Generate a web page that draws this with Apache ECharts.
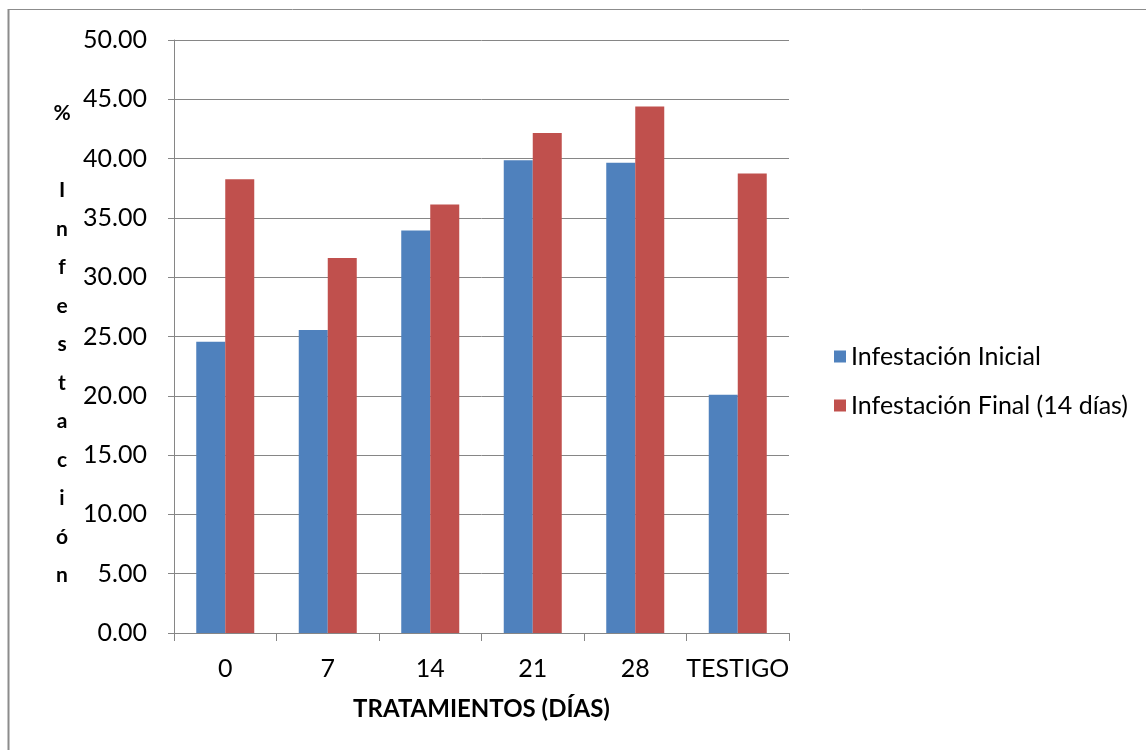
<!DOCTYPE html>
<html>
<head>
<meta charset="utf-8">
<script src="https://cdn.jsdelivr.net/npm/echarts@6/dist/echarts.min.js"></script>
<style>
    html, body { margin: 0; padding: 0; background: #fff; }
    #chartInfestacion { width: 1146px; height: 750px; }
</style>
</head>
<body>
<div id="chartInfestacion"></div>
<script>
    // datos
    var categorias = ['0', '7', '14', '21', '28', 'TESTIGO'];
    var infestacionInicial = [24.55, 25.54, 33.94, 39.86, 39.66, 20.08];
    var infestacionFinal = [38.26, 31.62, 36.13, 42.15, 44.39, 38.74];
    var nombreSerie1 = 'Infestación Inicial';
    var nombreSerie2 = 'Infestación Final (14 días)';
    var tituloY = ['%', '', 'I', 'n', 'f', 'e', 's', 't', 'a', 'c', 'i', 'ó', 'n'];
    var tituloX = 'TRATAMIENTOS (DÍAS)';

    var fuente = 'Lato, "Liberation Sans", sans-serif';

    var option = {
        animation: false,
        textStyle: { fontFamily: fuente },
        grid: {
            left: 174,
            right: 357,
            top: 40,
            bottom: 117
        },
        legend: {
            orient: 'vertical',
            left: 829,
            top: 339,
            itemWidth: 12,
            itemHeight: 12,
            itemGap: 24,
            icon: 'rect',
            textStyle: { fontSize: 25, color: '#000', fontFamily: fuente },
            data: [nombreSerie1, nombreSerie2]
        },
        xAxis: {
            type: 'category',
            data: categorias,
            name: tituloX,
            nameLocation: 'middle',
            nameGap: 64,
            nameTextStyle: { fontSize: 24, fontWeight: 'bold', color: '#000' },
            axisLine: { lineStyle: { color: '#868686', width: 1 } },
            axisTick: { show: true, length: 8, lineStyle: { color: '#868686' } },
            axisLabel: { fontSize: 25, color: '#000', margin: 23, interval: 0 }
        },
        yAxis: {
            type: 'value',
            min: 0,
            max: 50,
            interval: 5,
            axisLine: { show: true, lineStyle: { color: '#868686', width: 1 } },
            axisTick: { show: true, length: 6, lineStyle: { color: '#868686' } },
            axisLabel: {
                fontSize: 25,
                color: '#000',
                margin: 27,
                formatter: function (v) { return v.toFixed(2); }
            },
            splitLine: { lineStyle: { color: '#868686', width: 1 } }
        },
        graphic: [
            {
                type: 'line',
                shape: { x1: 8.5, y1: 9, x2: 8.5, y2: 750 },
                style: { stroke: '#8c8c8c', lineWidth: 2 }
            },
            {
                type: 'line',
                shape: { x1: 8, y1: 9.5, x2: 1146, y2: 9.5 },
                style: { stroke: '#8c8c8c', lineWidth: 1 }
            },
            {
                type: 'text',
                x: 62,
                y: 94,
                style: {
                    text: tituloY.join('\n'),
                    fontSize: 21,
                    fontWeight: 'bold',
                    fontFamily: fuente,
                    fill: '#000',
                    lineHeight: 38.5,
                    align: 'center'
                }
            }
        ],
        series: [
            {
                name: nombreSerie1,
                type: 'bar',
                barWidth: 29,
                barGap: '0%',
                itemStyle: { color: '#4F81BD' },
                data: infestacionInicial
            },
            {
                name: nombreSerie2,
                type: 'bar',
                barWidth: 29,
                barGap: '0%',
                itemStyle: { color: '#C0504D' },
                data: infestacionFinal
            }
        ]
    };

    var myChart = echarts.init(document.getElementById('chartInfestacion'));
    myChart.setOption(option);
</script>
</body>
</html>
